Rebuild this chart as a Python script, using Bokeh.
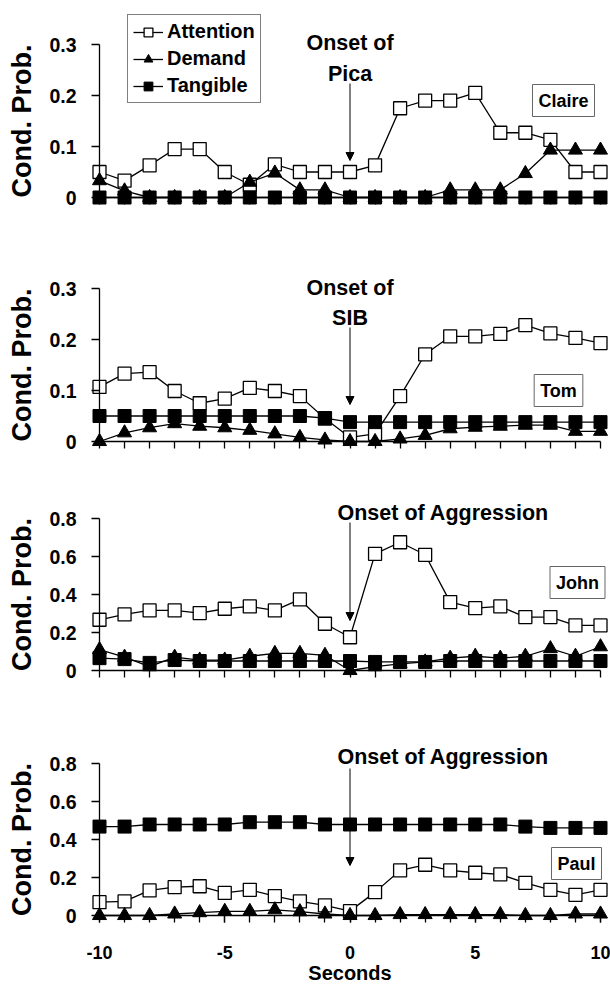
from bokeh.plotting import figure
from bokeh.layouts import column
from bokeh.models import (Range1d, LinearAxis, FixedTicker, Legend, LegendItem,
                          Label, Arrow, NormalHead)
from bokeh.embed import file_html
from bokeh.resources import INLINE

# ---------------- data ----------------
seconds = [-10, -9, -8, -7, -6, -5, -4, -3, -2, -1, 0, 1, 2, 3, 4, 5, 6, 7, 8, 9, 10]
series_names = ["Attention", "Demand", "Tangible"]
participants = ["Claire", "Tom", "John", "Paul"]

claire_attention = [0.050, 0.033, 0.063, 0.095, 0.095, 0.050, 0.025, 0.065, 0.050, 0.050, 0.050,
                    0.063, 0.175, 0.190, 0.190, 0.205, 0.127, 0.127, 0.113, 0.050, 0.050]
claire_demand = [0.033, 0.013, 0.000, 0.000, 0.000, 0.000, 0.030, 0.048, 0.015, 0.015, 0.000,
                 0.000, 0.000, 0.000, 0.015, 0.015, 0.015, 0.047, 0.093, 0.093, 0.093]
claire_tangible = [0.000, 0.000, 0.000, 0.000, 0.000, 0.000, 0.000, 0.000, 0.000, 0.000, 0.000,
                   0.000, 0.000, 0.000, 0.000, 0.000, 0.000, 0.000, 0.000, 0.000, 0.000]

tom_attention = [0.107, 0.133, 0.136, 0.099, 0.075, 0.084, 0.105, 0.099, 0.089, 0.045, 0.008,
                 0.015, 0.089, 0.171, 0.206, 0.206, 0.211, 0.228, 0.212, 0.203, 0.193]
tom_demand = [0.000, 0.017, 0.027, 0.035, 0.030, 0.027, 0.022, 0.015, 0.008, 0.003, 0.000,
              0.000, 0.005, 0.012, 0.025, 0.028, 0.030, 0.032, 0.032, 0.020, 0.020]
tom_tangible = [0.050, 0.050, 0.050, 0.050, 0.050, 0.050, 0.050, 0.050, 0.050, 0.046, 0.038,
                0.038, 0.038, 0.038, 0.038, 0.038, 0.038, 0.038, 0.038, 0.038, 0.038]

john_attention = [0.267, 0.295, 0.316, 0.316, 0.302, 0.325, 0.337, 0.316, 0.374, 0.246, 0.175,
                  0.614, 0.675, 0.609, 0.360, 0.328, 0.337, 0.281, 0.281, 0.237, 0.237]
john_demand = [0.110, 0.070, 0.020, 0.070, 0.055, 0.055, 0.075, 0.090, 0.090, 0.080, 0.000,
               0.020, 0.035, 0.045, 0.065, 0.075, 0.065, 0.075, 0.115, 0.075, 0.125]
john_tangible = [0.065, 0.060, 0.040, 0.055, 0.050, 0.050, 0.050, 0.050, 0.050, 0.050, 0.050,
                 0.045, 0.045, 0.045, 0.050, 0.050, 0.050, 0.050, 0.050, 0.050, 0.050]

paul_attention = [0.070, 0.074, 0.132, 0.149, 0.154, 0.119, 0.135, 0.102, 0.074, 0.053, 0.023,
                  0.123, 0.237, 0.267, 0.237, 0.225, 0.216, 0.172, 0.135, 0.109, 0.135]
paul_demand = [0.000, 0.000, 0.000, 0.008, 0.015, 0.022, 0.022, 0.030, 0.020, 0.008, 0.000,
               0.000, 0.005, 0.005, 0.005, 0.005, 0.005, 0.000, 0.000, 0.008, 0.008]
paul_tangible = [0.468, 0.468, 0.479, 0.479, 0.479, 0.479, 0.491, 0.491, 0.491, 0.479, 0.479,
                 0.479, 0.479, 0.479, 0.479, 0.479, 0.479, 0.468, 0.461, 0.461, 0.461]

x_tick_values = [-10, -5, 0, 5, 10]
x_tick_labels = ["-10", "-5", "0", "5", "10"]
y_ticks_small = [0, 0.1, 0.2, 0.3]
y_labels_small = ["0", "0.1", "0.2", "0.3"]
y_ticks_large = [0, 0.2, 0.4, 0.6, 0.8]
y_labels_large = ["0", "0.2", "0.4", "0.6", "0.8"]
onset_texts = [["Onset of", "Pica"], ["Onset of", "SIB"],
               ["Onset of Aggression"], ["Onset of Aggression"]]
y_title = "Cond. Prob."
x_title = "Seconds"

# ---------------- layout / style ----------------
FONT = "Liberation Sans"
FIG_WIDTH = 610
X_FIRST_PX = 99.0
X_LAST_PX = 600.0
Y_TITLE_PX = 21.0
PX_PER_SEC = (X_LAST_PX - X_FIRST_PX) / (seconds[-1] - seconds[0])


def sec_at(px):
    return seconds[0] + (px - X_FIRST_PX) / PX_PER_SEC


X_START = sec_at(0)
X_END = sec_at(FIG_WIDTH)

panels = [
    dict(att=claire_attention, dem=claire_demand, tan=claire_tangible,
         yt=y_ticks_small, yl=y_labels_small,
         top=0, bottom=216, zero=197, toptick=44,
         text_y=[42, 73], text_left=None, arrow=(83, 160), name_xy=(563, 100)),
    dict(att=tom_attention, dem=tom_demand, tan=tom_tangible,
         yt=y_ticks_small, yl=y_labels_small,
         top=216, bottom=456, zero=441, toptick=288,
         text_y=[287, 317], text_left=None, arrow=(327, 404), name_xy=(558, 390)),
    dict(att=john_attention, dem=john_demand, tan=john_tangible,
         yt=y_ticks_large, yl=y_labels_large,
         top=456, bottom=690, zero=670, toptick=518,
         text_y=[512], text_left=337, arrow=(522, 620), name_xy=(577, 582)),
    dict(att=paul_attention, dem=paul_demand, tan=paul_tangible,
         yt=y_ticks_large, yl=y_labels_large,
         top=690, bottom=985, zero=915, toptick=763,
         text_y=[756], text_left=337, arrow=(768, 865), name_xy=(576, 863)),
]


def style_text(obj, size):
    obj.text_font = FONT
    obj.text_font_style = "bold"
    obj.text_font_size = size
    obj.text_color = "black"


figs = []
for i, pan in enumerate(panels):
    k = (pan["zero"] - pan["toptick"]) / pan["yt"][-1]

    def val_at(py, pan=pan, k=k):
        return (pan["zero"] - py) / k

    y_start = val_at(pan["bottom"])
    y_end = val_at(pan["top"])
    is_bottom = (i == len(panels) - 1)

    p = figure(width=FIG_WIDTH, height=pan["bottom"] - pan["top"],
               x_range=Range1d(X_START, X_END), y_range=Range1d(y_start, y_end),
               output_backend="svg", toolbar_location=None,
               x_axis_location=None, y_axis_location=None,
               min_border_left=0, min_border_right=0,
               min_border_top=0, min_border_bottom=0,
               background_fill_color="white", border_fill_color="white")
    p.outline_line_color = None
    if p.title is not None:
        p.title.visible = False
    for g in p.grid:
        g.visible = False

    la = p.line(seconds, pan["att"], line_color="black", line_width=1.3)
    sa = p.scatter(seconds, pan["att"], marker="square", size=13,
                   fill_color="white", line_color="black", line_width=1.3)
    ld = p.line(seconds, pan["dem"], line_color="black", line_width=1.3)
    sd = p.scatter(seconds, pan["dem"], marker="triangle", size=14,
                   fill_color="black", line_color="black", line_width=1)
    lt = p.line(seconds, pan["tan"], line_color="black", line_width=1.3)
    st = p.scatter(seconds, pan["tan"], marker="square", size=13,
                   fill_color="black", line_color="black", line_width=1)

    # y axis at x = -10
    yaxis = LinearAxis(fixed_location=seconds[0], bounds=(pan["yt"][0], pan["yt"][-1]),
                       ticker=FixedTicker(ticks=pan["yt"], minor_ticks=[]),
                       major_label_overrides={t: l for t, l in zip(pan["yt"], pan["yl"])})
    yaxis.axis_line_color = "black"
    yaxis.axis_line_width = 1.3
    yaxis.major_tick_line_width = 1.3
    yaxis.major_tick_out = 8
    yaxis.major_tick_in = 0
    yaxis.minor_tick_out = 0
    yaxis.major_label_standoff = 15
    yaxis.major_label_text_font = FONT
    yaxis.major_label_text_font_style = "bold"
    yaxis.major_label_text_font_size = "19.5px"
    yaxis.major_label_text_color = "black"
    p.add_layout(yaxis, "left")

    # y title, centred on the axis extent
    ytitle = Label(x=sec_at(Y_TITLE_PX), y=(pan["yt"][0] + pan["yt"][-1]) / 2, text=y_title,
                   angle=90, angle_units="deg", text_align="center", text_baseline="middle")
    style_text(ytitle, "27px")
    p.add_layout(ytitle)

    # x axis at y = 0
    xaxis = LinearAxis(fixed_location=0, bounds=(seconds[0], seconds[-1]),
                       ticker=FixedTicker(ticks=x_tick_values if is_bottom else [],
                                          minor_ticks=seconds))
    if is_bottom:
        xaxis.major_label_overrides = {t: l for t, l in zip(x_tick_values, x_tick_labels)}
        xaxis.axis_label = x_title
    xaxis.axis_line_color = "black"
    xaxis.axis_line_width = 1.3
    xaxis.major_tick_line_width = 1.3
    xaxis.minor_tick_line_width = 1.3
    xaxis.minor_tick_line_color = "black"
    xaxis.major_tick_out = 7
    xaxis.major_tick_in = 0
    xaxis.minor_tick_out = 7
    xaxis.minor_tick_in = 0
    xaxis.major_label_standoff = 23
    xaxis.major_label_text_font = FONT
    xaxis.major_label_text_font_style = "bold"
    xaxis.major_label_text_font_size = "18px"
    xaxis.major_label_text_color = "black"
    xaxis.axis_label_text_font = FONT
    xaxis.axis_label_text_font_style = "bold"
    xaxis.axis_label_text_font_size = "20px"
    xaxis.axis_label_text_color = "black"
    xaxis.axis_label_standoff = 0
    p.add_layout(xaxis, "below")

    # onset annotation
    for j, t in enumerate(onset_texts[i]):
        if pan["text_left"] is None:
            lab = Label(x=0, y=val_at(pan["text_y"][j]), text=t, text_align="center",
                        text_baseline="middle")
        else:
            lab = Label(x=sec_at(pan["text_left"]), y=val_at(pan["text_y"][j]), text=t,
                        text_align="left", text_baseline="middle")
        style_text(lab, "21.5px")
        p.add_layout(lab)
    a0, a1 = pan["arrow"]
    p.add_layout(Arrow(end=NormalHead(size=8, fill_color="black", line_color="black", line_width=1),
                       x_start=0, y_start=val_at(a0), x_end=0, y_end=val_at(a1),
                       line_color="black", line_width=1))

    # participant name box
    nx, ny = pan["name_xy"]
    nlab = Label(x=sec_at(nx), y=val_at(ny), text=participants[i], text_align="center",
                 text_baseline="middle", border_line_color="#666666", border_line_width=1,
                 background_fill_color="white", padding=6)
    style_text(nlab, "18px")
    p.add_layout(nlab)

    if i == 0:
        legend = Legend(items=[LegendItem(label=series_names[0], renderers=[la, sa]),
                               LegendItem(label=series_names[1], renderers=[ld, sd]),
                               LegendItem(label=series_names[2], renderers=[lt, st])],
                        location=(127, 113))
        legend.label_text_font = FONT
        legend.label_text_font_style = "bold"
        legend.label_text_font_size = "20px"
        legend.label_text_color = "black"
        legend.border_line_color = "black"
        legend.border_line_width = 1.3
        legend.glyph_width = 30
        legend.glyph_height = 22
        legend.label_height = 22
        legend.label_standoff = 4
        legend.spacing = 4
        legend.padding = 5
        legend.margin = 0
        legend.background_fill_alpha = 1
        p.add_layout(legend, "center")

    figs.append(p)

layout = column(*figs, spacing=0)
open("out.html", "w").write(file_html(layout, INLINE))
